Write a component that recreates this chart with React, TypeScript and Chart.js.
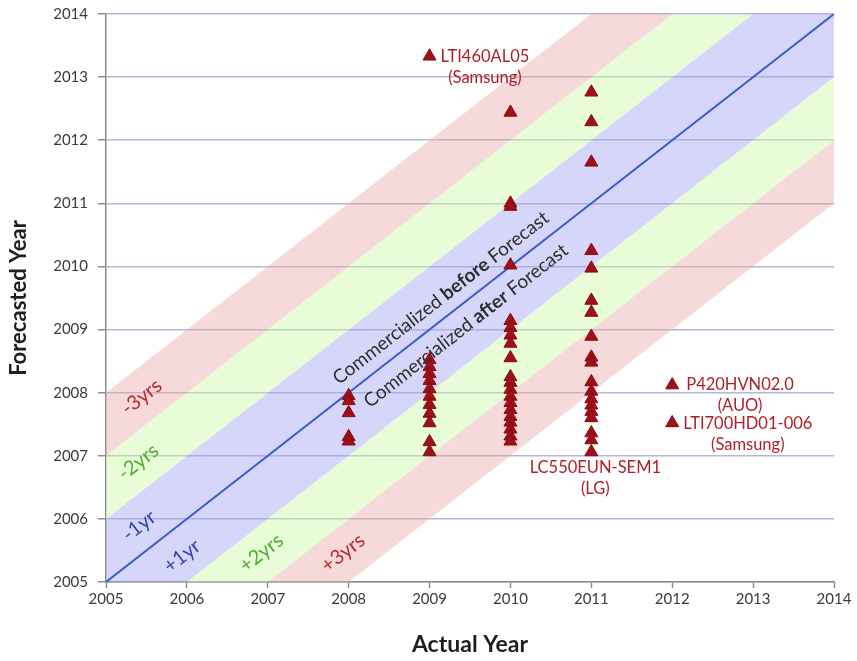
import { useEffect, useRef } from "react";
import { Chart, registerables } from "chart.js";

Chart.register(...registerables);

// ---- data ----
const yearTicks = [2005, 2006, 2007, 2008, 2009, 2010, 2011, 2012, 2013, 2014];
const bandOffsets = [3, 2, 1, -1, -2, -3];
const bandFillColors = [
  "rgba(235,170,170,0.45)",
  "rgba(204,248,168,0.45)",
  "rgba(165,165,244,0.45)",
  "rgba(204,248,168,0.45)",
  "rgba(235,170,170,0.45)",
];

const actual2008 = [2007.95, 2007.87, 2007.68, 2007.3, 2007.23];
const actual2009 = [2013.33, 2008.52, 2008.41, 2008.3, 2008.19, 2008.06, 2007.94, 2007.81, 2007.67, 2007.52, 2007.22, 2007.06];
const actual2010 = [2012.44, 2011.0, 2010.95, 2010.02, 2009.14, 2009.03, 2008.91, 2008.78, 2008.55, 2008.25, 2008.16, 2008.05, 2007.94, 2007.84, 2007.73, 2007.62, 2007.53, 2007.42, 2007.31, 2007.23];
const actual2011 = [2012.76, 2012.29, 2011.65, 2010.25, 2009.97, 2009.46, 2009.27, 2008.89, 2008.56, 2008.48, 2008.17, 2008.02, 2007.9, 2007.8, 2007.7, 2007.6, 2007.36, 2007.25, 2007.06];
const actual2012 = [2008.12, 2007.52];

const columns: [number, number[]][] = [
  [2008, actual2008],
  [2009, actual2009],
  [2010, actual2010],
  [2011, actual2011],
  [2012, actual2012],
];

const pointLabels = [
  { x: 2009, y: 2013.33, lines: ["LTI460AL05", "(Samsung)"], align: "left", dx: 11, dy: 0 },
  { x: 2012, y: 2008.12, lines: ["P420HVN02.0", "(AUO)"], align: "left", dx: 14, dy: 0 },
  { x: 2012, y: 2007.52, lines: ["LTI700HD01-006", "(Samsung)"], align: "left", dx: 11, dy: 1 },
  { x: 2011, y: 2007.06, lines: ["LC550EUN-SEM1", "(LG)"], align: "center", dx: 4, dy: 16 },
];

const bandLabels = [
  { text: "-3yrs", x: 2005.44, y: 2007.93, color: "#c0282e" },
  { text: "-2yrs", x: 2005.4, y: 2006.9, color: "#4fae2e" },
  { text: "-1yr", x: 2005.41, y: 2005.89, color: "#3343b3" },
  { text: "+1yr", x: 2005.94, y: 2005.41, color: "#3343b3" },
  { text: "+2yrs", x: 2006.92, y: 2005.46, color: "#4fae2e" },
  { text: "+3yrs", x: 2007.93, y: 2005.46, color: "#c0282e" },
];

const diagTexts = [
  { parts: [["Commercialized ", false], ["before", true], [" Forecast", false]], x: 2009.14, y: 2009.5 },
  { parts: [["Commercialized ", false], ["after", true], [" Forecast", false]], x: 2009.45, y: 2009.06 },
];

const FONT = "Lato, 'Open Sans', sans-serif";

const annotationPlugin = {
  id: "annotations",
  afterDatasetsDraw(chart: any) {
    const ctx = chart.ctx as CanvasRenderingContext2D;
    const xs = chart.scales.x;
    const ys = chart.scales.y;
    const ca = chart.chartArea;
    const angle = Math.atan2(
      ys.getPixelForValue(2006) - ys.getPixelForValue(2005),
      xs.getPixelForValue(2006) - xs.getPixelForValue(2005)
    );

    // band labels
    for (const b of bandLabels) {
      ctx.save();
      ctx.translate(xs.getPixelForValue(b.x), ys.getPixelForValue(b.y));
      ctx.rotate(angle);
      ctx.font = `20px ${FONT}`;
      ctx.fillStyle = b.color;
      ctx.textAlign = "center";
      ctx.textBaseline = "middle";
      ctx.fillText(b.text, 0, 0);
      ctx.restore();
    }

    // diagonal texts
    for (const d of diagTexts) {
      ctx.save();
      ctx.translate(xs.getPixelForValue(d.x), ys.getPixelForValue(d.y));
      ctx.rotate(angle);
      ctx.textBaseline = "middle";
      ctx.textAlign = "left";
      ctx.fillStyle = "#2e2e2e";
      let total = 0;
      const widths: number[] = [];
      for (const [t, bold] of d.parts as [string, boolean][]) {
        ctx.font = `${bold ? "bold " : ""}19px ${FONT}`;
        const w = ctx.measureText(t).width;
        widths.push(w);
        total += w;
      }
      let cx = -total / 2;
      (d.parts as [string, boolean][]).forEach(([t, bold], i) => {
        ctx.font = `${bold ? "bold " : ""}19px ${FONT}`;
        ctx.fillText(t, cx, 0);
        cx += widths[i];
      });
      ctx.restore();
    }

    // point labels
    ctx.save();
    ctx.font = `16.5px ${FONT}`;
    ctx.fillStyle = "#b01f27";
    ctx.textBaseline = "middle";
    for (const p of pointLabels) {
      const px = xs.getPixelForValue(p.x) + p.dx;
      const py = ys.getPixelForValue(p.y) + p.dy;
      const w1 = ctx.measureText(p.lines[0]).width;
      const cx = p.align === "left" ? px + w1 / 2 : px;
      ctx.textAlign = "center";
      p.lines.forEach((ln, i) => ctx.fillText(ln, cx, py + i * 21));
    }
    ctx.restore();

    // axis titles
    ctx.save();
    ctx.fillStyle = "#1e1e1e";
    ctx.textAlign = "center";
    ctx.textBaseline = "middle";
    ctx.font = `bold 23px ${FONT}`;
    ctx.fillText("Actual Year", (ca.left + ca.right) / 2, 645);
    ctx.font = `bold 22px ${FONT}`;
    ctx.translate(19, (ca.top + ca.bottom) / 2);
    ctx.rotate(-Math.PI / 2);
    ctx.fillText("Forecasted Year", 0, 0);
    ctx.restore();
  },
};

export default function App() {
  const ref = useRef<HTMLCanvasElement>(null);
  useEffect(() => {
    if (!ref.current) return;
    const xMin = yearTicks[0];
    const xMax = yearTicks[yearTicks.length - 1];

    const bandDatasets: any[] = bandOffsets.map((k, i) => ({
      type: "line",
      label: `band${k}`,
      data: [
        { x: xMin, y: xMin + k },
        { x: xMax, y: xMax + k },
      ],
      borderWidth: 0,
      borderColor: "rgba(0,0,0,0)",
      pointRadius: 0,
      fill: i < bandOffsets.length - 1 ? { target: i + 1 } : false,
      backgroundColor: i < bandFillColors.length ? bandFillColors[i] : "rgba(0,0,0,0)",
      order: 5,
    }));

    const diagonal = {
      type: "line",
      label: "diag",
      data: [
        { x: xMin, y: xMin },
        { x: xMax, y: xMax },
      ],
      borderColor: "#3a5ccc",
      borderWidth: 2,
      pointRadius: 0,
      fill: false,
      order: 2,
    };

    const scatterPts: { x: number; y: number }[] = [];
    for (const [ax, vals] of columns) for (const v of vals) scatterPts.push({ x: ax, y: v });

    const scatter = {
      type: "scatter",
      label: "products",
      data: scatterPts,
      pointStyle: "triangle",
      pointRadius: 7.5,
      backgroundColor: "#a0101a",
      borderColor: "#850a10",
      borderWidth: 1,
      order: 0,
    };

    const chart = new Chart(ref.current, {
      type: "scatter",
      data: { datasets: [...bandDatasets, diagonal, scatter] as any },
      options: {
        responsive: false,
        animation: false,
        layout: { padding: { left: 0, right: 23, top: 0, bottom: 0 } },
        plugins: { legend: { display: false }, tooltip: { enabled: false } },
        scales: {
          x: {
            type: "linear",
            min: xMin,
            max: xMax,
            afterBuildTicks: (s: any) => {
              s.ticks = yearTicks.map((v) => ({ value: v }));
            },
            afterFit: (s: any) => {
              s.height = 79;
            },
            ticks: {
              color: "#3a3a3a",
              font: { family: FONT, size: 15 },
              padding: 2,
              callback: (v: any) => String(v),
            },
            grid: { drawOnChartArea: false, drawTicks: true, tickLength: 6, tickColor: "#8c8c8c", tickWidth: 1.5 },
            border: { color: "#8c8c8c", width: 1.5 },
          },
          y: {
            type: "linear",
            min: yearTicks[0],
            max: yearTicks[yearTicks.length - 1],
            afterBuildTicks: (s: any) => {
              s.ticks = yearTicks.map((v) => ({ value: v }));
            },
            afterFit: (s: any) => {
              s.width = 106;
              s.paddingTop = 14;
            },
            ticks: {
              color: "#3a3a3a",
              font: { family: FONT, size: 15 },
              padding: 10,
              callback: (v: any) => String(v),
            },
            grid: { color: "#b3b6d8", lineWidth: 1.5, tickLength: 8, tickColor: "#8c8c8c", tickWidth: 1.5 },
            border: { color: "#8c8c8c", width: 1.5 },
          },
        },
      },
      plugins: [annotationPlugin],
    } as any);
    return () => chart.destroy();
  }, []);

  return (
    <div style={{ position: "absolute", left: 0, top: 0, width: 857, height: 661, background: "#fff" }}>
      <canvas ref={ref} width={857} height={661} style={{ width: 857, height: 661, display: "block" }} />
    </div>
  );
}
